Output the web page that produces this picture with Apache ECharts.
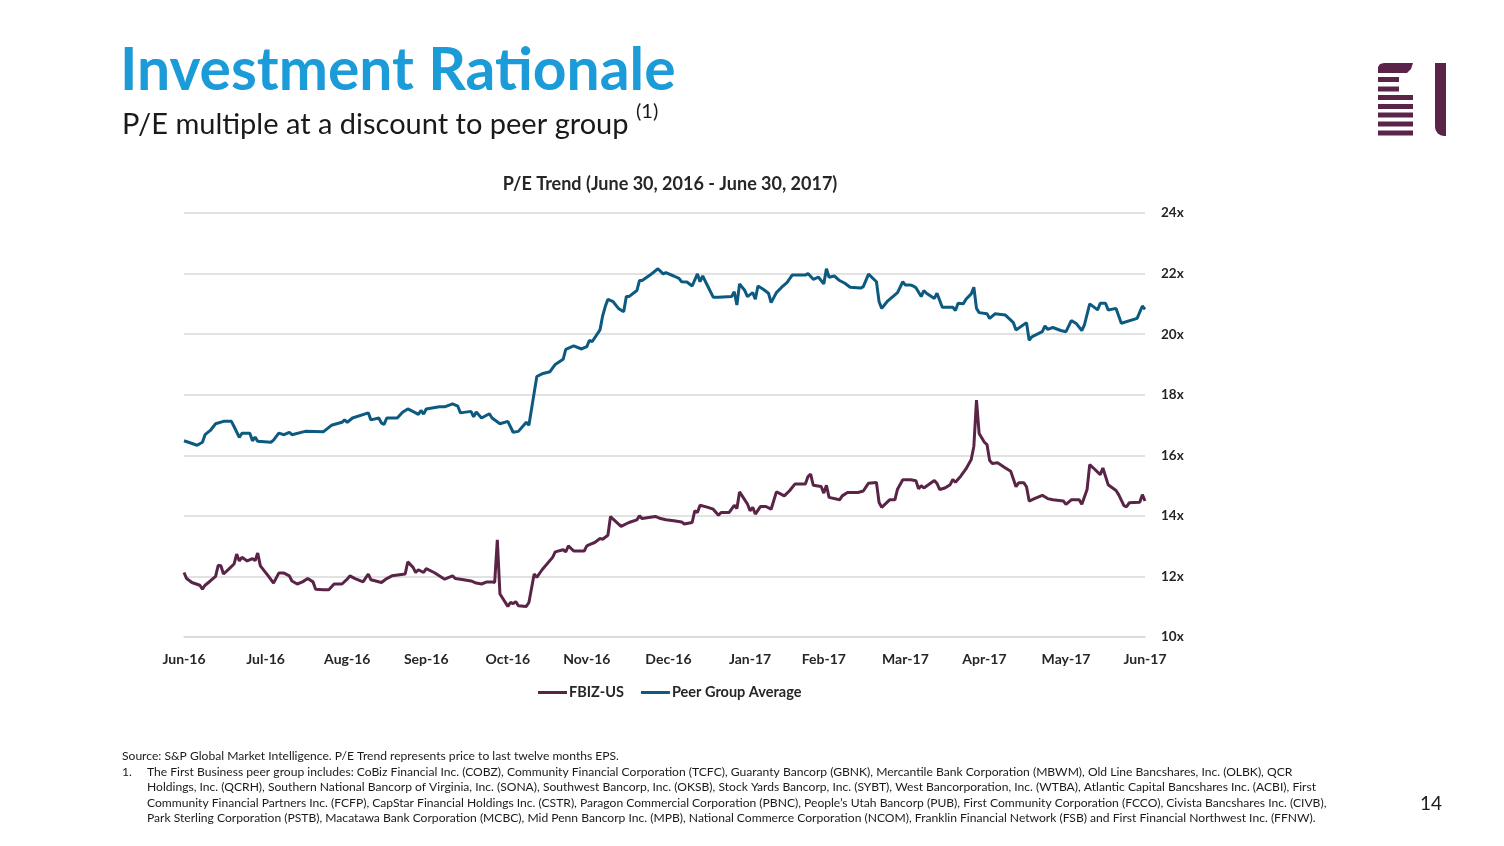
<!DOCTYPE html>
<html><head><meta charset="utf-8">
<script src="https://cdn.jsdelivr.net/npm/echarts@6/dist/echarts.min.js"></script>
<style>html,body{margin:0;padding:0;background:#fff}#c{width:1504px;height:846px}</style>
</head><body><div id="c"></div>
<script>
// ---------------- DATA ----------------
const peerDates = [
  '2016-06-30','2016-07-05','2016-07-07','2016-07-08','2016-07-10','2016-07-12','2016-07-15','2016-07-18','2016-07-19','2016-07-21','2016-07-22','2016-07-25','2016-07-26','2016-07-27','2016-07-28',
  '2016-08-02','2016-08-03','2016-08-05','2016-08-07','2016-08-09','2016-08-10','2016-08-15','2016-08-22','2016-08-25','2016-08-29','2016-08-30','2016-08-31',
  '2016-09-02','2016-09-08','2016-09-09','2016-09-12','2016-09-13','2016-09-14','2016-09-15','2016-09-19','2016-09-21','2016-09-23','2016-09-26','2016-09-27','2016-09-28','2016-09-29','2016-09-30',
  '2016-10-05','2016-10-07','2016-10-10','2016-10-12','2016-10-13','2016-10-17','2016-10-18','2016-10-19','2016-10-21','2016-10-24','2016-10-25','2016-10-28','2016-10-31',
  '2016-11-02','2016-11-04','2016-11-07','2016-11-08','2016-11-11','2016-11-13','2016-11-16','2016-11-18','2016-11-21','2016-11-22','2016-11-25','2016-11-28','2016-11-30',
  '2016-12-01','2016-12-02','2016-12-05','2016-12-06','2016-12-07','2016-12-08','2016-12-10','2016-12-12','2016-12-14','2016-12-15','2016-12-16','2016-12-19','2016-12-20','2016-12-21','2016-12-24','2016-12-27','2016-12-29','2016-12-30',
  '2017-01-02','2017-01-04','2017-01-05','2017-01-07','2017-01-09','2017-01-11','2017-01-12','2017-01-13','2017-01-17','2017-01-19','2017-01-24','2017-01-25','2017-01-26','2017-01-27','2017-01-29','2017-01-30',
  '2017-02-01','2017-02-02','2017-02-03','2017-02-05','2017-02-07','2017-02-08','2017-02-10','2017-02-12','2017-02-14','2017-02-16','2017-02-21','2017-02-22','2017-02-24','2017-02-26','2017-02-28',
  '2017-03-01','2017-03-02','2017-03-04','2017-03-06','2017-03-08','2017-03-10','2017-03-14','2017-03-15','2017-03-17','2017-03-20','2017-03-21','2017-03-22','2017-03-24','2017-03-28','2017-03-30','2017-03-31',
  '2017-04-02','2017-04-03','2017-04-04','2017-04-06','2017-04-07','2017-04-08','2017-04-11','2017-04-12','2017-04-14','2017-04-18','2017-04-19','2017-04-20','2017-04-22','2017-04-23','2017-04-25','2017-04-26','2017-04-27','2017-04-28',
  '2017-05-01','2017-05-02','2017-05-04','2017-05-08','2017-05-11','2017-05-12','2017-05-16','2017-05-17','2017-05-18','2017-05-22','2017-05-23','2017-05-24','2017-05-26','2017-05-29','2017-05-31',
  '2017-06-02','2017-06-04','2017-06-06','2017-06-07','2017-06-09','2017-06-12','2017-06-13','2017-06-15','2017-06-16','2017-06-19','2017-06-21','2017-06-27','2017-06-29','2017-06-30'
];
const peerValues = [
  16.48,16.33,16.43,16.68,16.82,17.04,17.12,17.12,16.95,16.59,16.73,16.73,16.48,16.60,16.46,
  16.43,16.50,16.73,16.68,16.76,16.68,16.79,16.78,16.99,17.09,17.17,17.09,
  17.23,17.40,17.17,17.23,17.06,17.02,17.23,17.23,17.42,17.53,17.40,17.35,17.48,17.36,17.53,
  17.60,17.60,17.70,17.62,17.40,17.45,17.27,17.43,17.23,17.37,17.23,17.04,17.12,
  16.76,16.79,17.09,16.99,18.60,18.69,18.76,19.00,19.17,19.50,19.61,19.51,19.59,
  19.80,19.75,20.14,20.60,20.91,21.15,21.07,20.85,20.74,21.24,21.24,21.44,21.77,21.77,21.95,22.16,21.99,22.03,
  21.92,21.84,21.73,21.72,21.59,21.99,21.73,21.92,21.22,21.22,21.24,21.40,20.96,21.66,21.44,21.24,
  21.37,21.15,21.59,21.48,21.35,21.04,21.37,21.55,21.70,21.95,21.95,22.00,21.81,21.88,21.66,
  22.16,21.88,21.92,21.77,21.68,21.55,21.52,21.57,21.98,21.73,21.07,20.85,21.07,21.37,21.73,21.62,
  21.62,21.59,21.53,21.24,21.44,21.35,21.18,21.35,20.89,20.89,20.78,21.02,21.00,21.15,21.33,21.55,20.85,20.71,
  20.67,20.52,20.67,20.63,20.38,20.14,20.38,19.80,19.91,20.08,20.27,20.16,20.22,20.12,20.08,
  20.45,20.34,20.12,20.31,21.00,20.80,21.02,21.02,20.80,20.85,20.36,20.52,20.93,20.82
];
const fbizDates = [
  '2016-06-30','2016-07-01','2016-07-03','2016-07-06','2016-07-07','2016-07-08','2016-07-10','2016-07-12','2016-07-13','2016-07-14','2016-07-15','2016-07-17','2016-07-19','2016-07-20','2016-07-21','2016-07-22','2016-07-24','2016-07-26','2016-07-27','2016-07-28','2016-07-29',
  '2016-08-01','2016-08-03','2016-08-05','2016-08-07','2016-08-09','2016-08-10','2016-08-12','2016-08-14','2016-08-16','2016-08-18','2016-08-19','2016-08-22','2016-08-24','2016-08-26','2016-08-29','2016-08-31',
  '2016-09-01','2016-09-03','2016-09-06','2016-09-08','2016-09-09','2016-09-13','2016-09-15','2016-09-17','2016-09-22','2016-09-23','2016-09-25','2016-09-26','2016-09-27','2016-09-29','2016-09-30',
  '2016-10-03','2016-10-07','2016-10-10','2016-10-11','2016-10-13','2016-10-17','2016-10-19','2016-10-21','2016-10-23','2016-10-25','2016-10-26','2016-10-27','2016-10-28','2016-10-31',
  '2016-11-01','2016-11-02','2016-11-03','2016-11-04','2016-11-07','2016-11-08','2016-11-10','2016-11-11','2016-11-13','2016-11-17','2016-11-18','2016-11-21','2016-11-22','2016-11-23','2016-11-25','2016-11-29','2016-11-30',
  '2016-12-01','2016-12-03','2016-12-05','2016-12-06','2016-12-08','2016-12-09','2016-12-10','2016-12-13','2016-12-16','2016-12-19','2016-12-20','2016-12-21','2016-12-26','2016-12-28','2016-12-30',
  '2017-01-02','2017-01-05','2017-01-06','2017-01-09','2017-01-10','2017-01-11','2017-01-12','2017-01-15','2017-01-17','2017-01-19','2017-01-20','2017-01-23','2017-01-25','2017-01-26','2017-01-27','2017-01-28','2017-01-30','2017-01-31',
  '2017-02-01','2017-02-02','2017-02-04','2017-02-06','2017-02-08','2017-02-10','2017-02-11','2017-02-13','2017-02-15','2017-02-17','2017-02-21','2017-02-22','2017-02-23','2017-02-24','2017-02-27','2017-02-28',
  '2017-03-01','2017-03-02','2017-03-06','2017-03-07','2017-03-09','2017-03-13','2017-03-15','2017-03-17','2017-03-20','2017-03-21','2017-03-22','2017-03-25','2017-03-27','2017-03-28','2017-03-30',
  '2017-04-02','2017-04-04','2017-04-05','2017-04-06','2017-04-07','2017-04-11','2017-04-12','2017-04-13','2017-04-15','2017-04-17','2017-04-18','2017-04-19','2017-04-21','2017-04-23','2017-04-25','2017-04-26','2017-04-27','2017-04-28','2017-04-30',
  '2017-05-01','2017-05-02','2017-05-03','2017-05-05','2017-05-08','2017-05-10','2017-05-11','2017-05-12','2017-05-13','2017-05-15','2017-05-16','2017-05-17','2017-05-19','2017-05-22','2017-05-24','2017-05-26','2017-05-30','2017-05-31',
  '2017-06-02','2017-06-05','2017-06-06','2017-06-08','2017-06-09','2017-06-11','2017-06-13','2017-06-14','2017-06-16','2017-06-19','2017-06-20','2017-06-22','2017-06-23','2017-06-24','2017-06-28','2017-06-29','2017-06-30'
];
const fbizValues = [
  12.13,11.93,11.80,11.71,11.58,11.71,11.85,12.00,12.37,12.35,12.08,12.24,12.41,12.74,12.51,12.63,12.51,12.59,12.52,12.77,12.35,
  12.02,11.78,12.11,12.11,12.02,11.85,11.75,11.82,11.93,11.82,11.58,11.56,11.56,11.75,11.75,11.91,
  12.02,11.93,11.82,12.08,11.89,11.80,11.93,12.02,12.08,12.48,12.30,12.13,12.22,12.13,12.26,
  12.13,11.91,12.02,11.93,11.91,11.85,11.78,11.75,11.82,11.82,11.80,13.21,11.42,11.01,
  11.14,11.10,11.17,11.03,11.01,11.14,12.08,11.97,12.22,12.63,12.81,12.88,12.81,13.01,12.84,12.84,13.01,
  13.05,13.12,13.25,13.23,13.36,13.98,13.89,13.65,13.78,13.87,14.00,13.91,13.98,13.91,13.87,
  13.84,13.80,13.73,13.78,14.17,14.11,14.35,14.28,14.22,14.02,14.11,14.11,14.35,14.24,14.79,14.66,14.39,14.17,
  14.28,14.06,14.31,14.31,14.22,14.79,14.75,14.66,14.83,15.05,15.05,15.30,15.38,15.01,14.97,14.75,
  15.01,14.61,14.53,14.66,14.77,14.77,14.82,15.08,15.10,14.44,14.28,14.53,14.53,14.88,15.19,
  15.19,15.16,14.89,15.00,14.92,15.17,15.07,14.87,14.92,15.03,15.20,15.11,15.31,15.55,15.86,16.30,17.82,16.72,16.43,
  16.35,15.83,15.73,15.75,15.58,15.47,15.22,14.96,15.09,15.09,14.96,14.49,14.57,14.68,14.57,14.53,14.49,14.38,
  14.53,14.53,14.38,14.87,15.69,15.53,15.36,15.58,15.03,14.84,14.70,14.34,14.30,14.43,14.45,14.70,14.49
];
const monthTickDates = ['2016-06-30','2016-07-31','2016-08-31','2016-09-30','2016-10-31','2016-11-30','2016-12-31','2017-01-31','2017-02-28','2017-03-31','2017-04-30','2017-05-31','2017-06-30'];
const monthNames = ['Jan','Feb','Mar','Apr','May','Jun','Jul','Aug','Sep','Oct','Nov','Dec'];
const seriesNames = ['FBIZ-US','Peer Group Average'];
const yMin = 10, yMax = 24, yStep = 2;

const footLines = [
  'Holdings, Inc. (QCRH), Southern National Bancorp of Virginia, Inc. (SONA), Southwest Bancorp, Inc. (OKSB), Stock Yards Bancorp, Inc. (SYBT), West Bancorporation, Inc. (WTBA), Atlantic Capital Bancshares Inc. (ACBI), First',
  'Community Financial Partners Inc. (FCFP), CapStar Financial Holdings Inc. (CSTR), Paragon Commercial Corporation (PBNC), People\u2019s Utah Bancorp (PUB), First Community Corporation (FCCO), Civista Bancshares Inc. (CIVB),',
  'Park Sterling Corporation (PSTB), Macatawa Bank Corporation (MCBC), Mid Penn Bancorp Inc. (MPB), National Commerce Corporation (NCOM), Franklin Financial Network (FSB) and First Financial Northwest Inc. (FFNW).'
];

// ---------------- CHART ----------------
const ts = s => { const p = s.split('-').map(Number); return Date.UTC(p[0], p[1] - 1, p[2]); };
const FONT = 'Lato, "Open Sans", sans-serif';
const maroon = '#5a2447', blue = '#0d5a80', logo = '#5b2348';
const FOOT = '12.1px ' + FONT;
const chart = echarts.init(document.getElementById('c'), null, {renderer: 'canvas'});

const footEls = footLines.map((t, i) => ({
  type: 'text', left: 147, top: 781.5 + i * 15.5,
  style: {text: t, font: FOOT, fill: '#1a1a1a'}
}));

chart.setOption({
  animation: false,
  grid: {left: 184, right: 359, top: 213, bottom: 209, containLabel: false},
  legend: {
    data: seriesNames, left: 538, top: 685, padding: 0, icon: 'rect', itemWidth: 29, itemHeight: 3, itemGap: 17,
    textStyle: {fontFamily: FONT, fontWeight: 'bold', fontSize: 14.5, color: '#262626', padding: [0, 0, 0, -3]}
  },
  xAxis: {
    type: 'value', min: ts(monthTickDates[0]), max: ts(monthTickDates[monthTickDates.length - 1]),
    axisLine: {show: true, lineStyle: {color: '#d9d9d9', width: 1.5}},
    axisTick: {show: false}, splitLine: {show: false},
    axisLabel: {
      customValues: monthTickDates.map(ts),
      formatter: v => { const d = new Date(v); return monthNames[d.getUTCMonth()] + '-' + String(d.getUTCFullYear()).slice(2); },
      fontFamily: FONT, fontWeight: 'bold', fontSize: 14, color: '#262626', margin: 15
    }
  },
  yAxis: {
    type: 'value', position: 'right', min: yMin, max: yMax, interval: yStep,
    axisLine: {show: false}, axisTick: {show: false},
    splitLine: {lineStyle: {color: '#d9d9d9', width: 1.5}},
    axisLabel: {formatter: '{value}x', fontFamily: FONT, fontWeight: 'bold', fontSize: 13.5, color: '#262626', margin: 16}
  },
  series: [
    {name: seriesNames[0], type: 'line', showSymbol: false, symbol: 'none', color: maroon,
     lineStyle: {width: 3, color: maroon}, data: fbizDates.map((d, i) => [ts(d), fbizValues[i]])},
    {name: seriesNames[1], type: 'line', showSymbol: false, symbol: 'none', color: blue,
     lineStyle: {width: 3, color: blue}, data: peerDates.map((d, i) => [ts(d), peerValues[i]])}
  ],
  graphic: [
    {type: 'text', left: 120, top: 42, style: {text: 'Investment Rationale', font: 'bold 58.8px ' + FONT, fill: '#1b9bd7'}},
    {type: 'text', left: 122, top: 110, style: {text: 'P/E multiple at a discount to peer group', font: '29px ' + FONT, fill: '#1a1a1a'}},
    {type: 'text', left: 636, top: 102, style: {text: '(1)', font: '20px ' + FONT, fill: '#1a1a1a'}},
    {type: 'text', x: 670, y: 184, style: {text: 'P/E Trend (June 30, 2016 - June 30, 2017)', font: 'bold 18px ' + FONT, fill: '#262626', align: 'center', verticalAlign: 'middle'}},
    // logo
    {type: 'polygon', shape: {points: [[1378,73],[1378,67],[1380,64],[1384,63],[1413,63],[1411,69],[1407,73]]}, style: {fill: logo}},
    {type: 'rect', shape: {x: 1378, y: 77, width: 21, height: 5}, style: {fill: logo}},
    {type: 'rect', shape: {x: 1378, y: 86.5, width: 21, height: 5}, style: {fill: logo}},
    {type: 'rect', shape: {x: 1378, y: 95, width: 35, height: 5}, style: {fill: logo}},
    {type: 'rect', shape: {x: 1378, y: 104, width: 35, height: 5}, style: {fill: logo}},
    {type: 'rect', shape: {x: 1378, y: 112.5, width: 35, height: 5}, style: {fill: logo}},
    {type: 'rect', shape: {x: 1378, y: 121.5, width: 35, height: 5}, style: {fill: logo}},
    {type: 'rect', shape: {x: 1378, y: 130.5, width: 35, height: 5}, style: {fill: logo}},
    {type: 'rect', shape: {x: 1435, y: 63, width: 11, height: 73, r: [0, 0, 0, 9]}, style: {fill: logo}},
    // footnotes
    {type: 'text', left: 122, top: 750.5, style: {text: 'Source: S&P Global Market Intelligence. P/E Trend represents price to last twelve months EPS.', font: FOOT, fill: '#1a1a1a'}},
    {type: 'text', left: 122, top: 766, style: {text: '1.', font: FOOT, fill: '#1a1a1a'}},
    {type: 'text', left: 147, top: 766, style: {text: 'The First Business peer group includes: CoBiz Financial Inc. (COBZ), Community Financial Corporation (TCFC), Guaranty Bancorp (GBNK), Mercantile Bank Corporation (MBWM), Old Line Bancshares, Inc. (OLBK), QCR', font: FOOT, fill: '#1a1a1a'}},
    ...footEls,
    {type: 'text', left: 1420, top: 794, style: {text: '14', font: '19px ' + FONT, fill: '#1a1a1a'}}
  ]
});
</script>
</body></html>
